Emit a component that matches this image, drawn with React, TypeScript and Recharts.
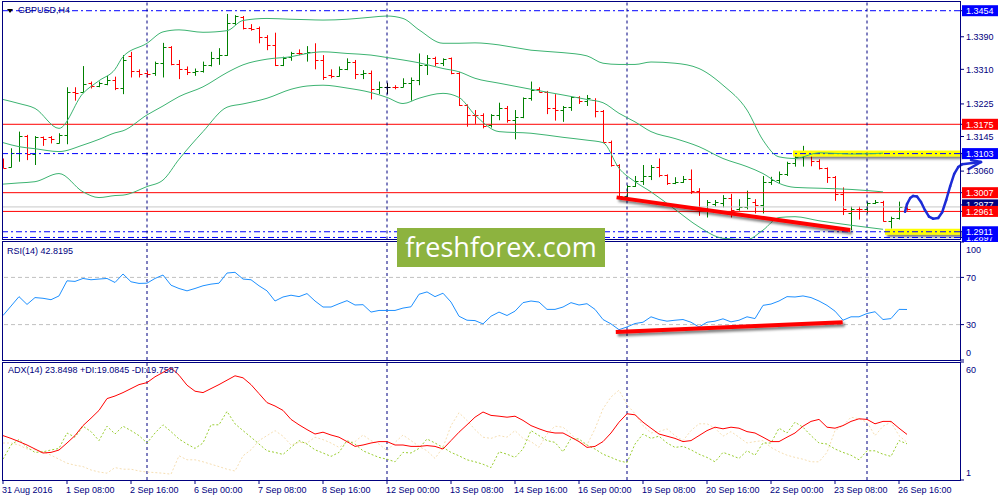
import React from 'react';
import { ComposedChart, Bar, Line, XAxis, YAxis, ReferenceLine } from 'recharts';

// ---------- DATA ----------
const OPEN = [
  1.3087, 1.3069, 1.3105, 1.3146, 1.3102, 1.3143, 1.3143, 1.3130, 1.3149, 1.3255,
  1.3255, 1.3276, 1.3269, 1.3274, 1.3284, 1.3265, 1.3343, 1.3306, 1.3300, 1.3300,
  1.3325, 1.3366, 1.3323, 1.3312, 1.3304, 1.3307, 1.3321, 1.3337, 1.3345, 1.3423,
  1.3439, 1.3411, 1.3411, 1.3390, 1.3370, 1.3321, 1.3341, 1.3351, 1.3349, 1.3353,
  1.3333, 1.3296, 1.3294, 1.3312, 1.3329, 1.3298, 1.3302, 1.3261, 1.3266, 1.3267,
  1.3267, 1.3276, 1.3284, 1.3321, 1.3337, 1.3326, 1.3337, 1.3300, 1.3222, 1.3198,
  1.3197, 1.3173, 1.3198, 1.3214, 1.3185, 1.3192, 1.3239, 1.3261, 1.3255, 1.3214,
  1.3210, 1.3217, 1.3241, 1.3231, 1.3235, 1.3208, 1.3132, 1.3075, 1.2999, 1.3023,
  1.3036, 1.3048, 1.3071, 1.3050, 1.3030, 1.3034, 1.3040, 1.3012, 1.2964, 1.2979,
  1.2981, 1.2995, 1.2966, 1.2973, 1.2985, 1.2977, 1.3034, 1.3038, 1.3054, 1.3079,
  1.3095, 1.3099, 1.3086, 1.3067, 1.3046, 1.3004, 1.2956, 1.2968, 1.2966, 1.2982,
  1.2985, 1.2938, 1.2946, 1.2973,
];
const HIGH = [
  1.3091, 1.3116, 1.3157, 1.3149, 1.3146, 1.3145, 1.3146, 1.3153, 1.3266, 1.3266,
  1.3318, 1.3280, 1.3280, 1.3294, 1.3292, 1.3345, 1.3353, 1.3310, 1.3307, 1.3329,
  1.3375, 1.3367, 1.3333, 1.3317, 1.3312, 1.3329, 1.3353, 1.3362, 1.3446, 1.3443,
  1.3441, 1.3421, 1.3415, 1.3394, 1.3400, 1.3341, 1.3353, 1.3359, 1.3367, 1.3374,
  1.3345, 1.3310, 1.3317, 1.3337, 1.3333, 1.3308, 1.3307, 1.3280, 1.3277, 1.3271,
  1.3288, 1.3290, 1.3349, 1.3345, 1.3341, 1.3337, 1.3339, 1.3304, 1.3224, 1.3210,
  1.3202, 1.3200, 1.3228, 1.3220, 1.3210, 1.3241, 1.3280, 1.3266, 1.3257, 1.3249,
  1.3220, 1.3244, 1.3244, 1.3247, 1.3239, 1.3210, 1.3135, 1.3077, 1.3026, 1.3048,
  1.3075, 1.3075, 1.3091, 1.3052, 1.3045, 1.3048, 1.3064, 1.3018, 1.2989, 1.2989,
  1.3001, 1.3004, 1.2991, 1.3012, 1.2991, 1.3048, 1.3046, 1.3059, 1.3083, 1.3104,
  1.3122, 1.3101, 1.3089, 1.3069, 1.3048, 1.3020, 1.2973, 1.2973, 1.2985, 1.2989,
  1.2987, 1.2948, 1.2985, 1.2974,
];
const LOW = [
  1.3067, 1.3069, 1.3083, 1.3087, 1.3075, 1.3122, 1.3128, 1.3128, 1.3126, 1.3233,
  1.3253, 1.3263, 1.3266, 1.3271, 1.3259, 1.3249, 1.3290, 1.3290, 1.3290, 1.3294,
  1.3290, 1.3320, 1.3286, 1.3296, 1.3294, 1.3302, 1.3317, 1.3321, 1.3343, 1.3419,
  1.3408, 1.3405, 1.3374, 1.3357, 1.3318, 1.3318, 1.3331, 1.3345, 1.3329, 1.3310,
  1.3284, 1.3288, 1.3292, 1.3308, 1.3286, 1.3286, 1.3236, 1.3249, 1.3249, 1.3261,
  1.3266, 1.3233, 1.3271, 1.3296, 1.3318, 1.3318, 1.3298, 1.3220, 1.3169, 1.3176,
  1.3165, 1.3167, 1.3185, 1.3179, 1.3138, 1.3190, 1.3233, 1.3253, 1.3200, 1.3184,
  1.3181, 1.3208, 1.3225, 1.3220, 1.3192, 1.3130, 1.3071, 1.2997, 1.2995, 1.3021,
  1.3026, 1.3038, 1.3045, 1.3026, 1.3028, 1.3031, 1.3004, 1.2950, 1.2946, 1.2973,
  1.2971, 1.2946, 1.2963, 1.2966, 1.2956, 1.2956, 1.3026, 1.3030, 1.3048, 1.3071,
  1.3071, 1.3072, 1.3064, 1.3031, 1.2987, 1.2952, 1.2915, 1.2941, 1.2956, 1.2979,
  1.2936, 1.2919, 1.2941, 1.2963,
];
const CLOSE = [
  1.3068, 1.3105, 1.3146, 1.3102, 1.3145, 1.3140, 1.3138, 1.3149, 1.3255, 1.3253,
  1.3274, 1.3269, 1.3276, 1.3284, 1.3265, 1.3333, 1.3306, 1.3298, 1.3298, 1.3325,
  1.3366, 1.3323, 1.3312, 1.3304, 1.3307, 1.3321, 1.3337, 1.3345, 1.3423, 1.3441,
  1.3411, 1.3410, 1.3390, 1.3370, 1.3321, 1.3339, 1.3351, 1.3349, 1.3353, 1.3333,
  1.3292, 1.3294, 1.3312, 1.3329, 1.3298, 1.3302, 1.3261, 1.3266, 1.3266, 1.3266,
  1.3276, 1.3284, 1.3321, 1.3337, 1.3326, 1.3335, 1.3300, 1.3222, 1.3198, 1.3197,
  1.3171, 1.3198, 1.3214, 1.3185, 1.3192, 1.3239, 1.3259, 1.3255, 1.3214, 1.3210,
  1.3217, 1.3241, 1.3231, 1.3239, 1.3208, 1.3132, 1.3075, 1.2999, 1.3023, 1.3036,
  1.3048, 1.3071, 1.3050, 1.3030, 1.3034, 1.3040, 1.3012, 1.2964, 1.2985, 1.2985,
  1.2995, 1.2964, 1.2971, 1.2993, 1.2977, 1.3034, 1.3038, 1.3054, 1.3079, 1.3095,
  1.3102, 1.3086, 1.3067, 1.3046, 1.3004, 1.2968, 1.2968, 1.2966, 1.2982, 1.2985,
  1.2938, 1.2946, 1.2973, 1.2968,
];

// Bollinger bands (bar index, price)
const BB_UPPER: [number, number][] = [
  [0, 1.3236], [2, 1.3226], [4, 1.3214], [7, 1.3165], [10, 1.3251], [12, 1.3282], [14, 1.3310],
  [15, 1.3341], [18, 1.3374], [20, 1.3402], [22, 1.3407], [25, 1.3401], [28, 1.3405], [30, 1.3430],
  [33, 1.3435], [36, 1.3433], [38, 1.3432], [40, 1.3431], [43, 1.3433], [46, 1.3438], [48, 1.3441],
  [50, 1.3435], [52, 1.3407], [55, 1.3374], [57, 1.3374], [59, 1.3375], [62, 1.3370], [66, 1.3357],
  [70, 1.3351], [73, 1.3343], [75, 1.3325], [77, 1.3322], [79, 1.3322], [81, 1.3328], [84, 1.3325],
  [87, 1.3312], [90, 1.3271], [93, 1.3210], [95, 1.3136], [97, 1.3095], [99, 1.3091], [102, 1.3105],
  [106, 1.3102], [110, 1.3104],
];
const BB_MIDDLE: [number, number][] = [
  [0, 1.3130], [2, 1.3120], [4, 1.3115], [7, 1.3108], [10, 1.3124], [12, 1.3138], [14, 1.3154],
  [15, 1.3159], [18, 1.3198], [20, 1.3220], [22, 1.3243], [25, 1.3267], [28, 1.3302], [30, 1.3321],
  [33, 1.3335], [36, 1.3341], [38, 1.3349], [40, 1.3353], [43, 1.3349], [46, 1.3345], [48, 1.3339],
  [50, 1.3333], [52, 1.3326], [55, 1.3312], [57, 1.3304], [59, 1.3288], [62, 1.3276], [66, 1.3261],
  [70, 1.3247], [73, 1.3236], [75, 1.3228], [77, 1.3202], [79, 1.3181], [81, 1.3157], [84, 1.3140],
  [87, 1.3120], [90, 1.3091], [93, 1.3071], [95, 1.3054], [97, 1.3030], [99, 1.3020], [102, 1.3018],
  [106, 1.3015], [110, 1.3009],
];
const BB_LOWER: [number, number][] = [
  [0, 1.3028], [2, 1.3031], [4, 1.3034], [7, 1.3054], [10, 1.3009], [12, 1.2995], [14, 1.3000],
  [15, 1.3001], [18, 1.3022], [20, 1.3038], [22, 1.3089], [25, 1.3157], [28, 1.3217], [30, 1.3225],
  [33, 1.3239], [36, 1.3261], [38, 1.3269], [40, 1.3271], [43, 1.3264], [46, 1.3253], [48, 1.3241],
  [50, 1.3226], [52, 1.3239], [55, 1.3251], [57, 1.3241], [59, 1.3198], [62, 1.3157], [66, 1.3153],
  [70, 1.3143], [73, 1.3136], [75, 1.3130], [77, 1.3067], [79, 1.3034], [81, 1.3009], [84, 1.2966],
  [87, 1.2923], [90, 1.2895], [93, 1.2892], [95, 1.2915], [97, 1.2946], [99, 1.2948], [102, 1.2938],
  [106, 1.2927], [110, 1.2917],
];

const RSI = [
  37.7, 45.7, 53.7, 47.1, 52.9, 52.3, 51.1, 54.3, 67.1, 66.6,
  69.1, 68.0, 68.6, 69.1, 65.7, 72.9, 66.3, 64.9, 65.1, 69.1,
  72.0, 63.4, 60.6, 58.6, 60.6, 62.9, 64.3, 65.1, 73.7, 74.3,
  68.6, 68.0, 62.9, 58.6, 50.0, 53.4, 54.9, 53.7, 56.3, 50.0,
  44.9, 44.9, 47.7, 50.3, 46.6, 46.9, 40.6, 42.0, 42.0, 42.0,
  44.0, 45.1, 55.7, 57.7, 53.7, 56.6, 49.1, 37.1, 33.7, 33.4,
  30.6, 37.1, 40.6, 37.7, 41.4, 48.6, 50.0, 49.1, 42.9, 42.9,
  44.9, 48.6, 46.6, 47.7, 42.9, 34.3, 30.6, 25.7, 28.0, 30.9,
  32.0, 36.6, 34.3, 32.9, 33.7, 34.3, 32.0, 28.0, 32.0, 32.9,
  34.9, 32.3, 33.7, 36.6, 35.1, 46.3, 47.4, 50.0, 53.7, 53.4,
  54.3, 52.9, 50.0, 46.3, 41.4, 33.7, 36.6, 36.6, 39.4, 40.9,
  34.3, 35.1, 42.9, 42.8,
];
const ADX = [
  23.2, 21.8, 20.2, 18.5, 16.5, 14.5, 14.8, 16.0, 19.5, 23.2,
  28.2, 31.9, 35.8, 41.7, 43.0, 44.7, 46.7, 48.7, 49.7, 52.6,
  54.8, 57.1, 53.4, 48.4, 45.4, 44.7, 46.7, 48.7, 50.9, 53.1,
  52.1, 48.7, 44.2, 39.7, 38.0, 35.8, 31.3, 28.6, 26.2, 24.0,
  24.9, 23.5, 22.4, 20.2, 17.8, 18.5, 19.5, 20.2, 20.2, 18.5,
  18.5, 17.8, 17.8, 18.2, 17.8, 16.5, 20.7, 24.9, 28.6, 32.4,
  35.0, 33.3, 32.9, 32.4, 32.9, 30.8, 28.2, 26.6, 25.2, 24.5,
  24.5, 22.4, 20.2, 17.3, 17.8, 20.2, 24.5, 29.9, 34.1, 33.6,
  29.9, 26.9, 24.0, 22.9, 21.8, 20.2, 20.7, 23.2, 25.7, 27.4,
  26.6, 27.4, 26.9, 25.2, 24.5, 22.4, 20.2, 20.2, 22.4, 24.5,
  27.9, 30.3, 31.3, 27.4, 26.9, 28.2, 30.3, 31.6, 31.3, 29.1,
  30.3, 30.3, 26.9, 23.8,
];
const PLUS_DI = [
  11.4, 18.5, 21.2, 17.3, 14.8, 15.1, 16.0, 16.8, 24.5, 22.4,
  27.9, 25.2, 20.7, 27.9, 24.0, 27.9, 25.7, 23.2, 19.5, 24.5,
  28.6, 25.2, 21.5, 19.0, 16.8, 19.5, 28.6, 28.6, 35.3, 29.1,
  25.7, 22.4, 19.0, 15.6, 14.8, 13.8, 17.3, 20.7, 19.0, 16.1,
  14.5, 12.8, 14.8, 20.7, 19.0, 15.6, 13.9, 12.3, 11.4, 10.1,
  14.8, 14.5, 16.8, 21.5, 19.5, 17.3, 14.8, 13.1, 11.1, 10.1,
  8.9, 7.2, 15.1, 13.9, 12.3, 16.5, 25.7, 23.2, 20.7, 19.8,
  15.1, 21.8, 21.5, 18.5, 16.5, 13.9, 12.3, 10.6, 9.7, 19.0,
  24.0, 21.8, 22.9, 19.5, 17.3, 17.8, 16.1, 13.9, 12.3, 10.1,
  14.8, 13.4, 11.8, 15.6, 13.4, 19.5, 19.5, 26.9, 24.5, 29.9,
  27.4, 23.2, 19.5, 19.0, 16.5, 14.8, 13.4, 11.1, 15.6, 15.6,
  13.9, 12.8, 20.7, 19.1,
];
const MINUS_DI = [
  19.5, 19.5, 18.5, 16.5, 16.1, 15.1, 13.4, 11.4, 9.4, 8.4,
  7.7, 6.0, 5.0, 4.4, 7.2, 6.4, 6.4, 5.5, 5.0, 4.7,
  4.4, 3.9, 13.1, 11.1, 11.1, 10.1, 8.9, 7.7, 6.4, 5.5,
  13.1, 16.1, 20.7, 23.2, 25.7, 22.9, 18.5, 19.8, 19.5, 22.4,
  21.2, 19.5, 17.3, 19.8, 20.2, 23.5, 20.7, 19.0, 15.6, 19.8,
  23.5, 20.7, 17.8, 15.6, 11.8, 17.3, 28.2, 34.6, 30.8, 26.2,
  22.4, 21.8, 23.2, 22.4, 25.7, 21.8, 20.2, 17.3, 24.0, 27.9,
  27.4, 24.0, 20.2, 18.5, 26.6, 36.6, 42.5, 45.9, 38.7, 34.1,
  28.2, 24.5, 25.2, 26.6, 23.2, 20.7, 25.7, 29.1, 29.1, 26.9,
  22.9, 25.2, 22.4, 19.5, 20.2, 20.7, 17.3, 15.1, 13.4, 12.3,
  11.4, 10.1, 10.1, 14.8, 25.7, 28.2, 32.4, 31.6, 29.9, 23.2,
  27.9, 29.9, 23.2, 19.8,
];

const DATE_TICKS = [0, 8, 16, 24, 32, 40, 48, 56, 64, 72, 80, 88, 96, 104, 112];
const DATE_LABELS = [
  '31 Aug 2016', '1 Sep 08:00', '2 Sep 16:00', '6 Sep 00:00', '7 Sep 08:00', '8 Sep 16:00',
  '12 Sep 00:00', '13 Sep 08:00', '14 Sep 16:00', '16 Sep 00:00', '19 Sep 08:00', '20 Sep 16:00',
  '22 Sep 00:00', '23 Sep 08:00', '26 Sep 16:00',
];
const WEEK_SEPARATORS = [18, 48, 78, 108];

const PRICE_TICKS = [1.3390, 1.3310, 1.3225, 1.3145, 1.3060];
const RED_LEVELS = [1.3175, 1.3007, 1.2961];
const BLUE_LEVELS = [1.3454, 1.3103, 1.2911, 1.2897];
const BID_LINE = 1.2972;
const BID_LABEL = 1.2977;
const RSI_TICKS = [100, 70, 30, 0];
const RSI_LEVELS = [70, 30];
const ADX_TICKS = [60, 1];

// Annotations (bar index, value)
const PRICE_TREND: [number, number][] = [[76.7, 1.29955], [105.9, 1.29152]];
const RSI_TREND: [number, number][] = [[76.6, 23.7], [104.96, 31.9]];
const HIGHLIGHT_TOP: [number, number][] = [[98.75, 1.3103], [119.625, 1.3103]];
const HIGHLIGHT_BOTTOM: [number, number][] = [[110.25, 1.2911], [119.625, 1.2911]];
const FORECAST_CURVE: [number, number][] = [
  [112.75, 1.2960], [113.0, 1.2979], [113.4, 1.2994], [113.75, 1.2999], [114.25, 1.29975],
  [114.75, 1.2984], [115.25, 1.2964], [115.75, 1.2948], [116.25, 1.2943], [116.9, 1.2945],
  [117.4, 1.2959], [117.9, 1.2989], [118.4, 1.3023], [118.9, 1.3053], [119.4, 1.3070],
  [119.9, 1.3077], [122.25, 1.30823],
];
const ARROW_BARBS: [number, number][][] = [
  [[122.25, 1.30823], [121.0, 1.30872]],
  [[122.25, 1.30823], [120.75, 1.30653]],
];

// ---------- STYLE ----------
const NAVY = '#000080';
const FONT = '"Liberation Sans", Arial, sans-serif';
const BULL = '#008000';
const BEAR = '#ff0000';
const BB_COLOR = '#3CB371';
const X_DOMAIN: [number, number] = [-0.0625, 119.625];
const PRICE_DOMAIN: [number, number] = [1.2892, 1.34754];

const toMap = (pairs: [number, number][]) => new Map(pairs.map(([i, v]) => [i, v]));
const U = toMap(BB_UPPER);
const M = toMap(BB_MIDDLE);
const L = toMap(BB_LOWER);

const data = OPEN.map((o, i) => ({
  i,
  o,
  h: HIGH[i],
  l: LOW[i],
  c: CLOSE[i],
  bbU: U.has(i) ? U.get(i) : null,
  bbM: M.has(i) ? M.get(i) : null,
  bbL: L.has(i) ? L.get(i) : null,
  rsi: RSI[i],
  adx: ADX[i],
  pdi: PLUS_DI[i],
  mdi: MINUS_DI[i],
}));

const seg = (p: [number, number][]) => [
  { x: p[0][0], y: p[0][1] },
  { x: p[1][0], y: p[1][1] },
];

function OhlcShape(props: any) {
  const { x, y, width, height, payload } = props;
  if (!payload || x == null || y == null) return null;
  const cx = Math.round(x + width / 2) + 0.5;
  const span = payload.h - payload.l;
  const toY = (v: number) => (span > 0 ? y + ((payload.h - v) / span) * height : y);
  const yo = Math.round(toY(payload.o)) + 0.5;
  const yc = Math.round(toY(payload.c)) + 0.5;
  const color = payload.c > payload.o ? BULL : payload.c < payload.o ? BEAR : '#000000';
  return (
    <g>
      <line x1={cx} x2={cx} y1={y} y2={y + Math.max(height, 1)} stroke={color} strokeWidth={1} />
      <line x1={cx - 3} x2={cx} y1={yo} y2={yo} stroke={color} strokeWidth={1} />
      <line x1={cx} x2={cx + 3} y1={yc} y2={yc} stroke={color} strokeWidth={1} />
    </g>
  );
}

function boxColor(v: number): string | null {
  if (RED_LEVELS.includes(v)) return '#ff0000';
  if (BLUE_LEVELS.includes(v)) return '#0000ff';
  if (v === BID_LABEL) return NAVY;
  return null;
}

function PriceTick(props: any) {
  const { x, y, payload } = props;
  const v = payload.value as number;
  const color = boxColor(v);
  if (color) {
    return (
      <g>
        <rect x={x - 4} y={y - 5.5} width={36} height={11} fill={color} />
        <text x={x} y={y + 3.3} fill="#ffffff" fontSize={9} fontFamily={FONT}>
          {v.toFixed(4)}
        </text>
      </g>
    );
  }
  return (
    <text x={x} y={y + 3.3} fill={NAVY} fontSize={9} fontFamily={FONT}>
      {v.toFixed(4)}
    </text>
  );
}

function EdgeTick(props: any) {
  const { x, y, payload, top, bottom } = props;
  const v = payload.value as number;
  let dy = 3.3;
  if (v === top) dy += 7.5;
  if (v === bottom) dy -= 7.5;
  return (
    <text x={x} y={y + dy} fill={NAVY} fontSize={9} fontFamily={FONT}>
      {String(v)}
    </text>
  );
}

function DateTick(props: any) {
  const { x, y, payload } = props;
  const k = DATE_TICKS.indexOf(payload.value);
  return (
    <text x={x - 1} y={y + 6.5} fill={NAVY} fontSize={9} fontFamily={FONT} textAnchor="start">
      {k >= 0 ? DATE_LABELS[k] : ''}
    </text>
  );
}

const separators = (prefix: string) =>
  WEEK_SEPARATORS.map((s) => (
    <ReferenceLine key={prefix + s} x={s} stroke={NAVY} strokeDasharray="3 3" strokeWidth={1} />
  ));

function MainPanel() {
  const ticks = [...PRICE_TICKS, BID_LABEL, 1.2897, 1.3454, 1.3175, 1.3103, 1.3007, 1.2961, 1.2911];
  return (
    <ComposedChart width={1000} height={242} data={data} margin={{ top: 2, right: 0, bottom: 2.5, left: 2.5 }}>
      <XAxis dataKey="i" type="number" domain={X_DOMAIN} allowDataOverflow hide />
      <YAxis
        orientation="right"
        width={40}
        type="number"
        domain={PRICE_DOMAIN}
        allowDataOverflow
        ticks={ticks}
        interval={0}
        tickSize={4}
        tickMargin={2}
        axisLine={false}
        tickLine={{ stroke: NAVY }}
        tick={PriceTick}
        isAnimationActive={false}
      />
      <ReferenceLine y={BID_LINE} stroke="#c8c8c8" strokeWidth={1} />
      {RED_LEVELS.map((v) => (
        <ReferenceLine key={'r' + v} y={v} stroke="#ff0000" strokeWidth={1} />
      ))}
      <ReferenceLine segment={seg(HIGHLIGHT_TOP)} stroke="#ffff00" strokeWidth={6} filter="url(#dropShadow)" ifOverflow="visible" />
      <ReferenceLine segment={seg(HIGHLIGHT_BOTTOM)} stroke="#ffff00" strokeWidth={6} filter="url(#dropShadow)" ifOverflow="visible" />
      {BLUE_LEVELS.map((v) => (
        <ReferenceLine key={'b' + v} y={v} stroke="#0000ff" strokeWidth={1} strokeDasharray="6 3 2 3" />
      ))}
      {separators('m')}
      <Line dataKey="bbU" stroke={BB_COLOR} strokeWidth={1} dot={false} connectNulls type="monotone" isAnimationActive={false} />
      <Line dataKey="bbM" stroke={BB_COLOR} strokeWidth={1} dot={false} connectNulls type="monotone" isAnimationActive={false} />
      <Line dataKey="bbL" stroke={BB_COLOR} strokeWidth={1} dot={false} connectNulls type="monotone" isAnimationActive={false} />
      <Bar dataKey={(d: any) => [d.l, d.h]} barSize={5} shape={OhlcShape} isAnimationActive={false} />
      <ReferenceLine segment={seg(PRICE_TREND)} stroke="#ff0000" strokeWidth={4} filter="url(#dropShadow)" ifOverflow="visible" />
      {FORECAST_CURVE.slice(1).map((p, k) => (
        <ReferenceLine
          key={'fc' + k}
          segment={[
            { x: FORECAST_CURVE[k][0], y: FORECAST_CURVE[k][1] },
            { x: p[0], y: p[1] },
          ]}
          stroke="#1c2bd6"
          strokeWidth={2.5}
          strokeLinecap="round"
          ifOverflow="visible"
        />
      ))}
      {ARROW_BARBS.map((b, k) => (
        <ReferenceLine key={'ab' + k} segment={seg(b)} stroke="#1c2bd6" strokeWidth={2.5} strokeLinecap="round" ifOverflow="visible" />
      ))}
    </ComposedChart>
  );
}

function RsiPanel() {
  return (
    <ComposedChart width={1000} height={122} data={data} margin={{ top: 2, right: 0, bottom: 2, left: 2.5 }}>
      <XAxis dataKey="i" type="number" domain={X_DOMAIN} allowDataOverflow hide />
      <YAxis
        orientation="right"
        width={40}
        type="number"
        domain={[0, 100]}
        allowDataOverflow
        ticks={RSI_TICKS}
        interval={0}
        tickSize={4}
        tickMargin={2}
        axisLine={false}
        tickLine={{ stroke: NAVY }}
        tick={(p: any) => <EdgeTick {...p} top={100} bottom={0} />}
      />
      {RSI_LEVELS.map((v) => (
        <ReferenceLine key={'lv' + v} y={v} stroke="#c0c0c0" strokeDasharray="4 3" strokeWidth={1} />
      ))}
      {separators('r')}
      <Line dataKey="rsi" stroke="#1E90FF" strokeWidth={1} dot={false} type="linear" isAnimationActive={false} />
      <ReferenceLine segment={seg(RSI_TREND)} stroke="#ff0000" strokeWidth={4} filter="url(#dropShadow)" ifOverflow="visible" />
    </ComposedChart>
  );
}

function AdxPanel() {
  return (
    <ComposedChart width={1000} height={140} data={data} margin={{ top: 2, right: 0, bottom: 0, left: 2.5 }}>
      <XAxis
        dataKey="i"
        type="number"
        domain={X_DOMAIN}
        allowDataOverflow
        ticks={DATE_TICKS}
        interval={0}
        height={20}
        tickSize={4}
        tickMargin={2}
        axisLine={false}
        tickLine={{ stroke: NAVY }}
        tick={DateTick}
      />
      <YAxis
        orientation="right"
        width={40}
        type="number"
        domain={[1, 60]}
        allowDataOverflow
        ticks={ADX_TICKS}
        interval={0}
        tickSize={4}
        tickMargin={2}
        axisLine={false}
        tickLine={{ stroke: NAVY }}
        tick={(p: any) => <EdgeTick {...p} top={60} bottom={1} />}
      />
      {separators('a')}
      <Line dataKey="mdi" stroke="#F5DEB3" strokeWidth={1} strokeDasharray="2 2" dot={false} type="linear" isAnimationActive={false} />
      <Line dataKey="pdi" stroke="#9ACD32" strokeWidth={1} strokeDasharray="2 2" dot={false} type="linear" isAnimationActive={false} />
      <Line dataKey="adx" stroke="#ff0000" strokeWidth={1} dot={false} type="linear" isAnimationActive={false} />
    </ComposedChart>
  );
}

const abs = (style: React.CSSProperties): React.CSSProperties => ({ position: 'absolute', ...style });
const frame = (top: number, height: number): React.CSSProperties =>
  abs({ left: 2, top, width: 959, height, border: `1px solid ${NAVY}`, boxSizing: 'border-box', pointerEvents: 'none' });
const label: React.CSSProperties = { fontFamily: FONT, fontSize: 9, lineHeight: '11px', color: NAVY, whiteSpace: 'nowrap' };

export default function App() {
  return (
    <div style={abs({ left: 0, top: 0, width: 1000, height: 500, background: '#ffffff', overflow: 'hidden' })}>
      <svg width={0} height={0} style={{ position: 'absolute' }}>
        <defs>
          <filter id="dropShadow" filterUnits="userSpaceOnUse" x={-50} y={-50} width={1100} height={600}>
            <feDropShadow dx={2} dy={2.5} stdDeviation={1.3} floodColor="#000000" floodOpacity={0.5} />
          </filter>
        </defs>
      </svg>
      <div style={abs({ left: 0, top: 0 })}>
        <MainPanel />
      </div>
      <div style={abs({ left: 0, top: 240 })}>
        <RsiPanel />
      </div>
      <div style={abs({ left: 0, top: 360 })}>
        <AdxPanel />
      </div>
      <div style={frame(1, 239)} />
      <div style={frame(241, 120)} />
      <div style={frame(362, 119)} />
      <div
        style={abs({
          left: 7,
          top: 9,
          width: 0,
          height: 0,
          borderLeft: '3px solid transparent',
          borderRight: '3px solid transparent',
          borderTop: '4px solid #000000',
        })}
      />
      <div style={abs({ left: 18, top: 5, ...label })}>GBPUSD,H4</div>
      <div style={abs({ left: 7, top: 246, ...label })}>RSI(14) 42.8195</div>
      <div style={abs({ left: 8, top: 365, ...label })}>ADX(14) 23.8498 +DI:19.0845 -DI:19.7587</div>
      <div
        style={abs({
          left: 397,
          top: 228,
          width: 208,
          height: 39,
          background: '#8db33f',
          color: '#ffffff',
          fontFamily: '"Open Sans", sans-serif',
          fontSize: 27,
          lineHeight: '37px',
          textAlign: 'center',
        })}
      >
        freshforex.com
      </div>
    </div>
  );
}
